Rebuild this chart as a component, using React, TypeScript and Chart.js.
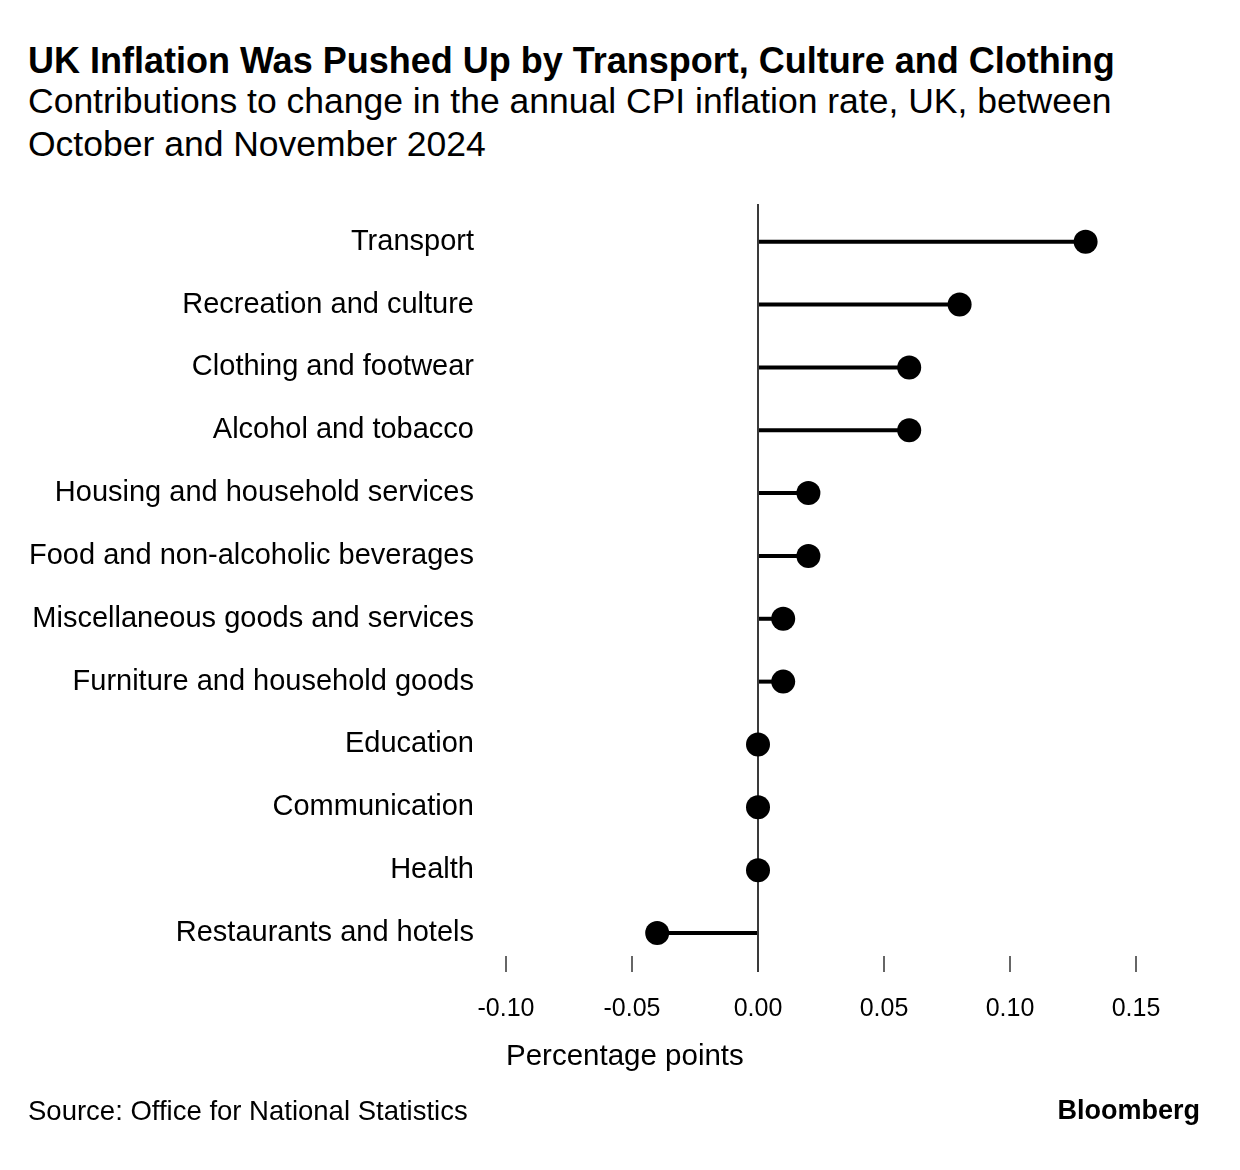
import React, { useEffect, useRef } from "react";
import { Chart, registerables } from "chart.js";

Chart.register(...registerables);

const titleText = "UK Inflation Was Pushed Up by Transport, Culture and Clothing";
const subtitleLines = [
  "Contributions to change in the annual CPI inflation rate, UK, between",
  "October and November 2024",
];
const sourceText = "Source: Office for National Statistics";
const brandText = "Bloomberg";
const xAxisTitle = "Percentage points";

const categories = [
  "Transport",
  "Recreation and culture",
  "Clothing and footwear",
  "Alcohol and tobacco",
  "Housing and household services",
  "Food and non-alcoholic beverages",
  "Miscellaneous goods and services",
  "Furniture and household goods",
  "Education",
  "Communication",
  "Health",
  "Restaurants and hotels",
];
const contributions = [0.13, 0.08, 0.06, 0.06, 0.02, 0.02, 0.01, 0.01, 0, 0, 0, -0.04];
const xTickValues = [-0.1, -0.05, 0, 0.05, 0.1, 0.15];

const FONT = "'Liberation Sans', Arial, Helvetica, sans-serif";

export default function App() {
  const canvasRef = useRef<HTMLCanvasElement | null>(null);

  useEffect(() => {
    const canvas = canvasRef.current;
    if (!canvas) return;
    const points = categories.map((_, i) => ({ x: contributions[i], y: i }));
    const isZero = (v: any) => Math.abs(Number(v)) < 1e-9;

    const chart = new Chart(canvas, {
      type: "bar",
      data: {
        datasets: [
          {
            type: "bar",
            data: points as any,
            backgroundColor: "#000",
            borderWidth: 0,
            barThickness: 4,
            inflateAmount: 0,
          } as any,
          {
            type: "scatter",
            data: points as any,
            backgroundColor: "#000",
            borderWidth: 0,
            pointRadius: 12,
            pointHoverRadius: 12,
            pointBorderWidth: 0,
          } as any,
        ],
      },
      options: {
        indexAxis: "y",
        animation: false,
        responsive: false,
        maintainAspectRatio: false,
        events: [],
        layout: { padding: { left: 0, top: 204, right: 104, bottom: 94 } },
        plugins: {
          legend: { display: false },
          tooltip: { enabled: false },
          title: { display: false },
        },
        scales: {
          x: {
            type: "linear",
            position: "bottom",
            offset: false,
            min: -0.1,
            max: 0.15,
            afterBuildTicks: (axis: any) => {
              axis.ticks = xTickValues.map((v) => ({ value: v }));
            },
            afterFit: (scale: any) => {
              scale.height = 120;
            },
            ticks: {
              autoSkip: false,
              maxRotation: 0,
              padding: 22,
              color: "#000",
              font: { family: FONT, size: 25 },
              callback: (v: any) => Number(v).toFixed(2),
            },
            grid: {
              display: true,
              offset: false,
              drawOnChartArea: true,
              drawTicks: true,
              tickLength: 16,
              lineWidth: 2,
              color: (ctx: any) => (ctx.tick && isZero(ctx.tick.value) ? "#3a3a3a" : "rgba(0,0,0,0)"),
              tickColor: (ctx: any) => (ctx.tick && isZero(ctx.tick.value) ? "#3a3a3a" : "#666"),
            },
            border: { display: false },
            title: {
              display: true,
              text: xAxisTitle,
              align: "start",
              color: "#000",
              font: { family: FONT, size: 29.5 },
              padding: { top: 0, bottom: 1 },
            },
          },
          y: {
            type: "linear",
            reverse: true,
            offset: false,
            min: -0.6,
            max: 11.366,
            afterBuildTicks: (axis: any) => {
              axis.ticks = categories.map((_, i) => ({ value: i }));
            },
            afterFit: (scale: any) => {
              scale.width = 506;
            },
            ticks: {
              autoSkip: false,
              padding: 32,
              color: "#000",
              font: { family: FONT, size: 29 },
              callback: (v: any) => categories[Number(v)] ?? "",
            },
            grid: { display: false, drawTicks: false, offset: false },
            border: { display: false },
          },
        },
      } as any,
    });

    return () => {
      chart.destroy();
    };
  }, []);

  const textBase: React.CSSProperties = {
    position: "absolute",
    fontFamily: FONT,
    color: "#000",
    whiteSpace: "nowrap",
    margin: 0,
  };

  return (
    <div
      style={{
        position: "absolute",
        left: 0,
        top: 0,
        width: 1240,
        height: 1170,
        background: "#fff",
        overflow: "hidden",
      }}
    >
      <div style={{ ...textBase, left: 28, top: 41, fontSize: 36, lineHeight: "40px", fontWeight: 700 }}>
        {titleText}
      </div>
      <div style={{ ...textBase, left: 28, top: 80, fontSize: 35.5, lineHeight: "43.3px" }}>
        {subtitleLines.map((l, i) => (
          <div key={i}>{l}</div>
        ))}
      </div>
      <canvas
        ref={canvasRef}
        width={1240}
        height={1170}
        style={{ position: "absolute", left: 0, top: 0, width: 1240, height: 1170 }}
      />
      <div style={{ ...textBase, left: 28, top: 1095.5, fontSize: 27.5, lineHeight: "30px" }}>{sourceText}</div>
      <div style={{ ...textBase, right: 40, top: 1094.7, fontSize: 27, lineHeight: "30px", fontWeight: 700 }}>
        {brandText}
      </div>
    </div>
  );
}
